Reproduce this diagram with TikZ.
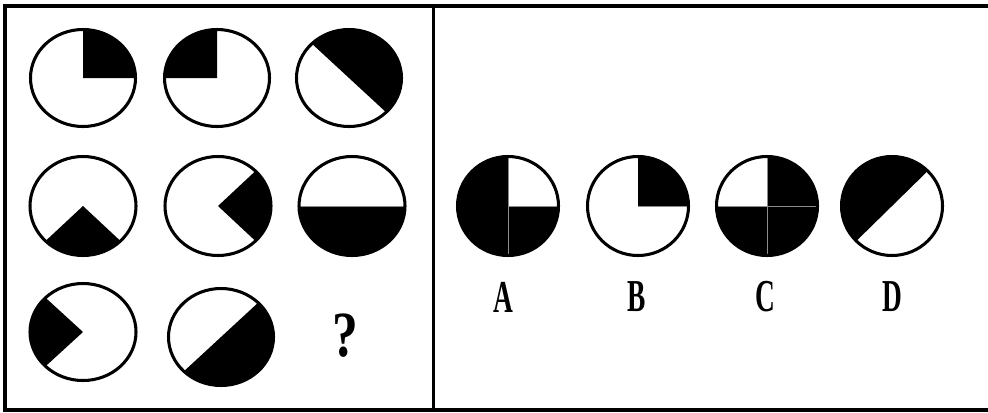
\documentclass[tikz,border=0pt]{standalone}
\usepackage{graphicx}
\usepackage{fontspec}
\setmainfont{Liberation Serif}
\newcommand\blkpart[6]{% cx cy rx ry start end (screen angles, counter-clockwise)
  \fill[black] (#1,#2) -- ++({-(#5)}:#3 and #4) arc[start angle={-(#5)}, end angle={-(#6)}, x radius=#3, y radius=#4] -- cycle;}
\begin{document}
\begin{tikzpicture}[x=0.03cm,y=-0.03cm,
  ring/.style={draw=black, line width=2.6pt},
  frameline/.style={draw=black, line width=3.4pt},
  divline/.style={draw=black, line width=2.5pt},
  seam/.style={draw=black!45, line width=0.6pt},
  optlabel/.style={inner sep=0pt, font=\fontsize{39}{39}\selectfont\bfseries},
  qmark/.style={inner sep=0pt, font=\fontsize{55}{55}\selectfont\bfseries}]
\useasboundingbox (0,0) rectangle (988,412);
% frame
\draw[frameline] (988,6) -- (5,6) -- (5,410) -- (988,410);
\draw[divline] (433.5,6) -- (433.5,410);
% row 1
\blkpart{83}{78}{52.5}{48.5}{0}{90}
\draw[ring] (83,78) ellipse [x radius=52.5, y radius=48.5];
\blkpart{217}{78}{52.5}{48.5}{90}{180}
\draw[ring] (217,78) ellipse [x radius=52.5, y radius=48.5];
\blkpart{349}{78}{52.5}{48.5}{-45}{135}
\draw[ring] (349,78) ellipse [x radius=52.5, y radius=48.5];
% row 2
\blkpart{83}{206}{53}{49.5}{225}{315}
\draw[ring] (83,206) ellipse [x radius=53, y radius=49.5];
\blkpart{218}{206}{53}{49.5}{-45}{45}
\draw[ring] (218,206) ellipse [x radius=53, y radius=49.5];
\blkpart{352}{206}{53}{49.5}{180}{360}
\draw[seam] (299,206) -- (405,206);
\draw[ring] (352,206) ellipse [x radius=53, y radius=49.5];
% row 3
\blkpart{83}{332}{53}{48.5}{135}{225}
\draw[ring] (83,332) ellipse [x radius=53, y radius=48.5];
\blkpart{221}{337}{52.5}{48.5}{225}{405}
\draw[ring] (221,337) ellipse [x radius=52.5, y radius=48.5];
\node[qmark] (q) at (345,336) {\scalebox{0.8}[1]{?}};
% options
% A
\blkpart{508}{206}{50.5}{49.5}{90}{360}
\draw[seam] (508,206) -- (508,255);
\draw[seam] (508,157) -- (508,206) -- (558,206);
\draw[ring] (508,206) ellipse [x radius=50.5, y radius=49.5];
% B
\blkpart{638}{206}{50.5}{49.5}{0}{90}
\draw[seam] (638,206) -- (688,206);
\draw[ring] (638,206) ellipse [x radius=50.5, y radius=49.5];
% C
\blkpart{767}{206}{50.5}{49.5}{-180}{90}
\draw[seam] (767,157) -- (767,255);
\draw[seam] (717,206) -- (817,206);
\draw[ring] (767,206) ellipse [x radius=50.5, y radius=49.5];
% D
\blkpart{892}{206}{50.5}{49.5}{45}{225}
\draw[ring] (892,206) ellipse [x radius=50.5, y radius=49.5];
% labels
\node[optlabel] (la) at (503,297) {\scalebox{0.6}[1]{A}};
\node[optlabel] (lb) at (637,297) {\scalebox{0.6}[1]{B}};
\node[optlabel] (lc) at (765,297) {\scalebox{0.6}[1]{C}};
\node[optlabel] (ld) at (892,297) {\scalebox{0.6}[1]{D}};
\end{tikzpicture}
\end{document}
